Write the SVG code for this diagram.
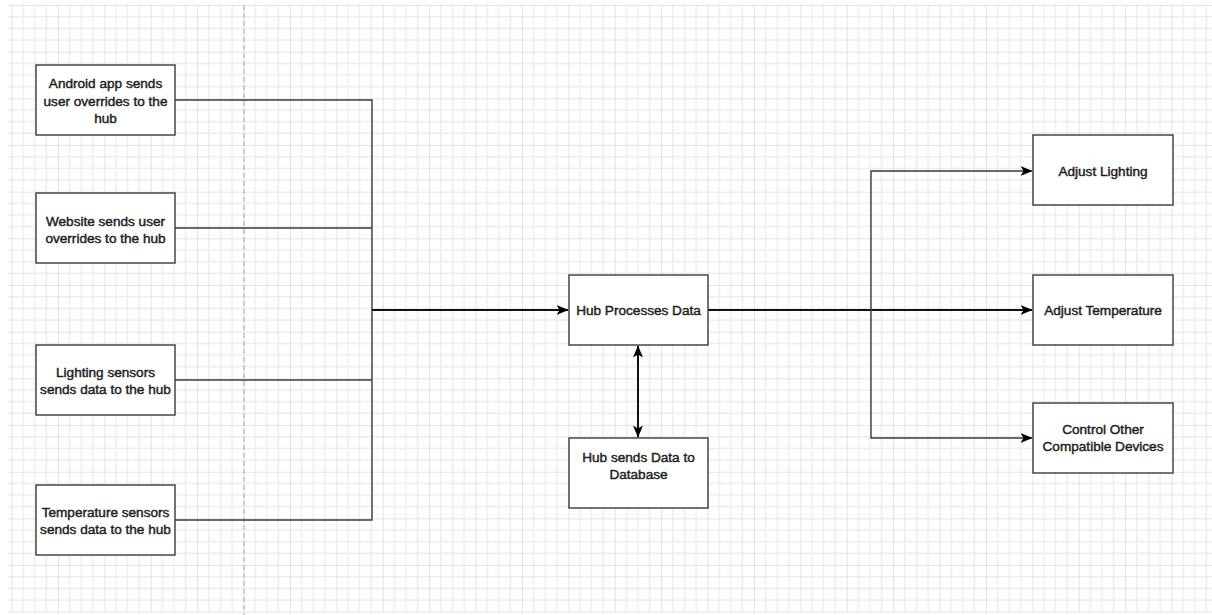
<svg xmlns="http://www.w3.org/2000/svg" width="1212" height="615" viewBox="0 0 1212 615">
<style>
.box{fill:#ffffff;stroke:#3a3a3a;stroke-width:1.4}
.t{font-family:"Liberation Sans",Arial,sans-serif;font-size:13.6px;fill:#1e1e1e;stroke:#1e1e1e;stroke-width:0.45;text-anchor:middle}
.c{fill:none;stroke:#3a3a3a;stroke-width:1.4}
.c2{fill:none;stroke:#111;stroke-width:2}
</style>
<defs>
<pattern id="grid" patternUnits="userSpaceOnUse" x="11.6" y="5" width="46.4" height="46.67">
<path d="M11.6,0V46.67M23.2,0V46.67M34.8,0V46.67M0,11.67H46.4M0,23.33H46.4M0,35H46.4" stroke="#ececec" stroke-width="1.3" fill="none"/>
<path d="M0,0V46.67M0,0H46.4" stroke="#dcdcdc" stroke-width="1.5" fill="none"/>
</pattern>
<marker id="ah" viewBox="0 0 12 10" refX="11.5" refY="5" markerWidth="12" markerHeight="10" markerUnits="userSpaceOnUse" orient="auto-start-reverse">
<path d="M0,0 L12,5 L0,10 L3,5 z" fill="#000"/>
</marker>
</defs>
<rect x="0" y="0" width="1212" height="615" fill="#ffffff"/>
<rect x="8" y="5" width="1204" height="608" fill="url(#grid)"/>
<line x1="244" y1="5" x2="244" y2="615" stroke="#bdbdbd" stroke-width="1.4" stroke-dasharray="5,3"/>
<g id="connectors">
<path class="c" d="M175,100 H372 V311"/>
<path class="c" d="M175,228 H372"/>
<path class="c" d="M175,380 H372"/>
<path class="c" d="M175,520 H372 V311"/>
<path class="c2" d="M372,310 H568" marker-end="url(#ah)"/>
<path class="c2" d="M708,310 H1032" marker-end="url(#ah)"/>
<path class="c" d="M871,310 V171 H1032" marker-end="url(#ah)"/>
<path class="c" d="M871,310 V438 H1032" marker-end="url(#ah)"/>
<path class="c2" d="M638,346 V437" marker-start="url(#ah)" marker-end="url(#ah)"/>
</g>
<g id="n-android"><rect class="box" x="36" y="65" width="139" height="70"/>
<text class="t" x="105.5" y="88">Android app sends</text><text class="t" x="105.5" y="106">user overrides to the</text><text class="t" x="105.5" y="123">hub</text></g>
<g id="n-website"><rect class="box" x="36" y="193" width="139" height="70"/>
<text class="t" x="105.5" y="226">Website sends user</text><text class="t" x="105.5" y="243">overrides to the hub</text></g>
<g id="n-lighting"><rect class="box" x="36" y="345" width="139" height="70"/>
<text class="t" x="105.5" y="377">Lighting sensors</text><text class="t" x="105.5" y="394">sends data to the hub</text></g>
<g id="n-temperature"><rect class="box" x="36" y="485" width="139" height="70"/>
<text class="t" x="105.5" y="517">Temperature sensors</text><text class="t" x="105.5" y="534">sends data to the hub</text></g>
<g id="n-hub"><rect class="box" x="569" y="275" width="139" height="70"/>
<text class="t" x="638.5" y="315">Hub Processes Data</text></g>
<g id="n-database"><rect class="box" x="569" y="438" width="139" height="70"/>
<text class="t" x="638.5" y="462">Hub sends Data to</text><text class="t" x="638.5" y="479">Database</text></g>
<g id="n-adjust-lighting"><rect class="box" x="1033" y="135" width="140" height="70"/>
<text class="t" x="1103" y="176">Adjust Lighting</text></g>
<g id="n-adjust-temperature"><rect class="box" x="1033" y="275" width="140" height="70"/>
<text class="t" x="1103" y="315">Adjust Temperature</text></g>
<g id="n-control"><rect class="box" x="1033" y="403" width="140" height="70"/>
<text class="t" x="1103" y="434">Control Other</text><text class="t" x="1103" y="451">Compatible Devices</text></g>
</svg>
